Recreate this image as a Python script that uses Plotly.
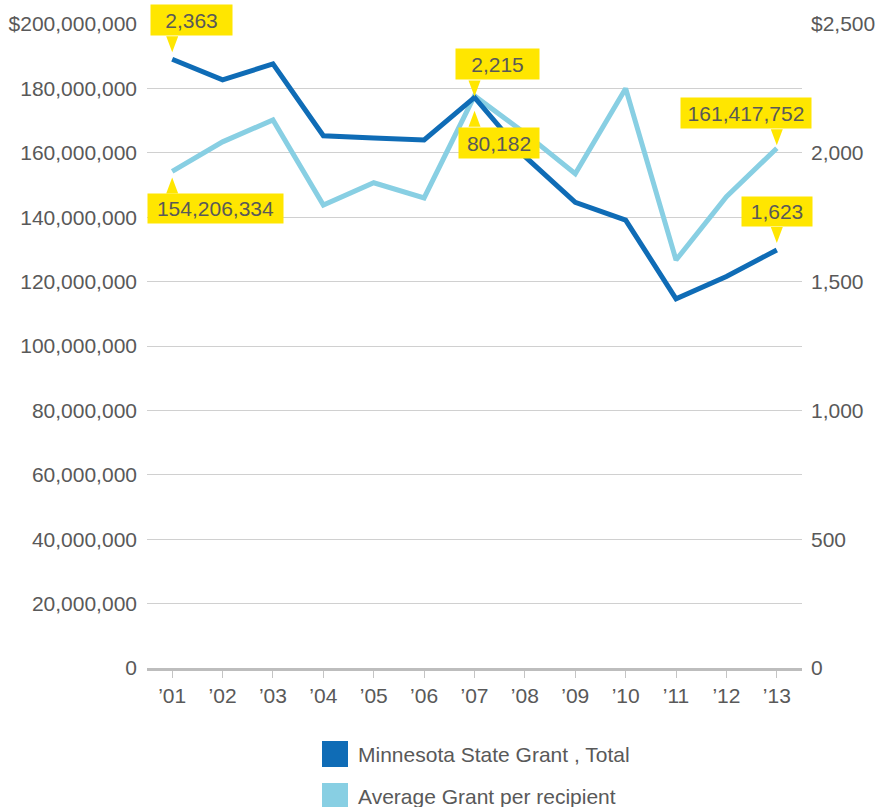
import plotly.graph_objects as go

# Academic years (fiscal year labels)
years = ["’01", "’02", "’03", "’04", "’05", "’06", "’07",
         "’08", "’09", "’10", "’11", "’12", "’13"]

# Series drawn against the right-hand ($ per recipient) axis
grant_total_series = [2363, 2283, 2345, 2066, 2057, 2050, 2215,
                      1986, 1808, 1739, 1433, 1520, 1623]

# Series drawn against the left-hand ($ total) axis
avg_grant_series = [154206334, 163400000, 170200000, 143800000, 150700000,
                    146000000, 177680182, 166100000, 153500000, 180000000,
                    126700000, 146400000, 161417752]

left_ticks = [0, 20e6, 40e6, 60e6, 80e6, 100e6, 120e6, 140e6, 160e6, 180e6, 200e6]
left_tick_text = ["0", "20,000,000", "40,000,000", "60,000,000", "80,000,000",
                  "100,000,000", "120,000,000", "140,000,000", "160,000,000",
                  "180,000,000", "$200,000,000"]
right_ticks = [0, 500, 1000, 1500, 2000, 2500]
right_tick_text = ["0", "500", "1,000", "1,500", "2,000", "$2,500"]

legend_names = ["Minnesota State Grant , Total", "Average Grant per recipient"]

DARK = "#0f6cb6"
LIGHT = "#88cfe3"
YELLOW = "#ffe600"
TEXT = "#595959"
GRID = "#d0d0d0"
FONT = "Liberation Sans, Arial, Helvetica, sans-serif"
FS = 21

W, H = 876, 807
ML, MR, MT, MB = 147, 74, 24, 139
PW, PH = W - ML - MR, H - MT - MB

x = list(range(len(years)))

fig = go.Figure()
fig.add_trace(go.Scatter(x=x, y=avg_grant_series, mode="lines", yaxis="y",
                         line=dict(color=LIGHT, width=5), name=legend_names[1],
                         showlegend=False, hoverinfo="skip"))
fig.add_trace(go.Scatter(x=x, y=grant_total_series, mode="lines", yaxis="y2",
                         line=dict(color=DARK, width=5), name=legend_names[0],
                         showlegend=False, hoverinfo="skip"))

# Callouts: (index, series, axis, label text, side, anchor, box w, box h,
#            horizontal shift, gap between point and box)
callouts = [
    (0, grant_total_series, "y2", "2,363", "above", "left", 81, 30, -22, 23),
    (0, avg_grant_series, "y", "154,206,334", "below", "left", 135, 29, -25, 22),
    (6, grant_total_series, "y2", "2,215", "above", "left", 83, 30, -20, 17),
    (6, avg_grant_series, "y", "80,182", "below", "left", 80, 30, -17, 31),
    (12, avg_grant_series, "y", "161,417,752", "above", "right", 130, 30, 35, 19),
    (12, grant_total_series, "y2", "1,623", "above", "right", 70, 29, 36, 23),
]

annotations = []
shapes = []
for idx, series, yref, label, side, xanc, bw, bh, xs, gap in callouts:
    yv = series[idx]
    if side == "above":
        yanc, ys = "bottom", gap
        tri = f"M -6,{gap} L 6,{gap} L 0,{gap - 16} Z"
    else:
        yanc, ys = "top", -gap
        tri = f"M -6,{-gap} L 6,{-gap} L 0,{-gap + 16} Z"
    annotations.append(dict(
        x=idx, y=yv, xref="x", yref=yref, text=label, showarrow=False,
        xanchor=xanc, yanchor=yanc, xshift=xs, yshift=ys,
        width=bw, height=bh, borderpad=0, bgcolor=YELLOW, align="center",
        valign="middle", font=dict(family=FONT, size=FS, color=TEXT)))
    shapes.append(dict(
        type="path", xref="x", yref=yref, xsizemode="pixel", ysizemode="pixel",
        xanchor=idx, yanchor=yv, path=tri, fillcolor=YELLOW,
        line=dict(width=0), layer="above"))


def px_to_paper(px, py):
    return (px - ML) / PW, (H - MB - py) / PH


# Legend drawn as colour swatches with labels underneath the chart
legend_rows = [(legend_names[0], DARK, 754), (legend_names[1], LIGHT, 796)]
for name, color, cy in legend_rows:
    x0, y0 = px_to_paper(322, cy + 13)
    x1, y1 = px_to_paper(348, cy - 13)
    shapes.append(dict(type="rect", xref="paper", yref="paper",
                       x0=x0, x1=x1, y0=y0, y1=y1, fillcolor=color,
                       line=dict(width=0)))
    tx, ty = px_to_paper(356, cy)
    annotations.append(dict(x=tx, y=ty, xref="paper", yref="paper", text=name,
                            showarrow=False, xanchor="left", yanchor="middle",
                            font=dict(family=FONT, size=FS, color=TEXT)))

fig.update_layout(
    width=W, height=H, autosize=False,
    margin=dict(l=ML, r=MR, t=MT, b=MB, pad=0),
    paper_bgcolor="white", plot_bgcolor="white",
    font=dict(family=FONT, size=FS, color=TEXT),
    showlegend=False,
    xaxis=dict(range=[-0.5, len(years) - 0.5], tickvals=x, ticktext=years,
               showgrid=False, zeroline=False, showline=True, linewidth=3,
               linecolor="#bdbdbd", ticks="outside", ticklen=7, tickwidth=1,
               tickcolor="#c4c4c4", tickfont=dict(family=FONT, size=FS, color=TEXT),
               automargin=False, fixedrange=True),
    yaxis=dict(range=[0, 200e6], tickvals=left_ticks, ticktext=left_tick_text,
               showgrid=True, gridcolor=GRID, gridwidth=1, zeroline=False,
               showline=False, ticks="", ticklabelstandoff=9,
               tickfont=dict(family=FONT, size=FS, color=TEXT),
               automargin=False, fixedrange=True),
    yaxis2=dict(range=[0, 2500], tickvals=right_ticks, ticktext=right_tick_text,
                overlaying="y", side="right", showgrid=False, zeroline=False,
                showline=False, ticks="", ticklabelstandoff=8,
                tickfont=dict(family=FONT, size=FS, color=TEXT),
                automargin=False, fixedrange=True),
    annotations=annotations,
    shapes=shapes,
)

fig.write_html("out.html")
